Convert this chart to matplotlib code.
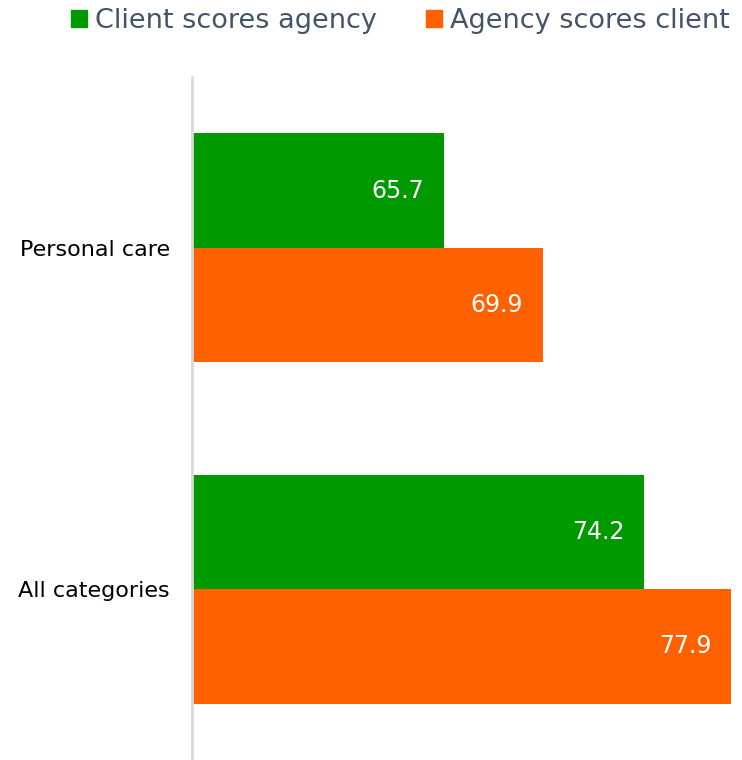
import matplotlib
matplotlib.use('Agg')
import matplotlib.pyplot as plt
from matplotlib.patches import Patch
import numpy as np

# Datos del gráfico
categorias = ['All categories', 'Personal care']
client_scores_agency = [74.2, 65.7]
agency_scores_client = [77.9, 69.9]
series = ['Client scores agency', 'Agency scores client']

VERDE = '#009900'
NARANJA = '#FF6000'
TEXTO = '#44546A'

plt.rcParams['font.family'] = ['DejaVu Sans']

fig = plt.figure(figsize=(7.42, 7.6), dpi=100)
ax = fig.add_axes([192 / 742, 0.0, 1 - 192 / 742, (760 - 77) / 760])

y = np.arange(len(categorias))
alto = 0.335
b1 = ax.barh(y + alto / 2, client_scores_agency, height=alto, color=VERDE)
b2 = ax.barh(y - alto / 2, agency_scores_client, height=alto, color=NARANJA)

ax.set_xlim(55, 78.38)
ax.set_ylim(-0.5, 1.5)

for barras in (b1, b2):
    ax.bar_label(barras, fmt='%.1f', padding=-14, color='white', fontsize=17)
# alinear etiquetas a la derecha dentro de la barra
for txt in ax.texts:
    txt.set_ha('right')

ax.set_yticks(y, categorias, fontsize=16, color='black')
ax.tick_params(axis='y', length=0, pad=16)
ax.set_xticks([])
for lado in ['top', 'right', 'bottom']:
    ax.spines[lado].set_visible(False)
ax.spines['left'].set_color('#D9D9D9')
ax.spines['left'].set_linewidth(2)

handles = [Patch(color=VERDE), Patch(color=NARANJA)]
fig.legend(handles, series, loc='upper right', bbox_to_anchor=(1.0, 1.005),
           ncol=2, frameon=False, fontsize=19.5, labelcolor=TEXTO,
           handlelength=0.6, handleheight=0.6, handletextpad=0.3,
           columnspacing=1.8, borderaxespad=0.05)

fig.savefig('out.png', dpi=100)
